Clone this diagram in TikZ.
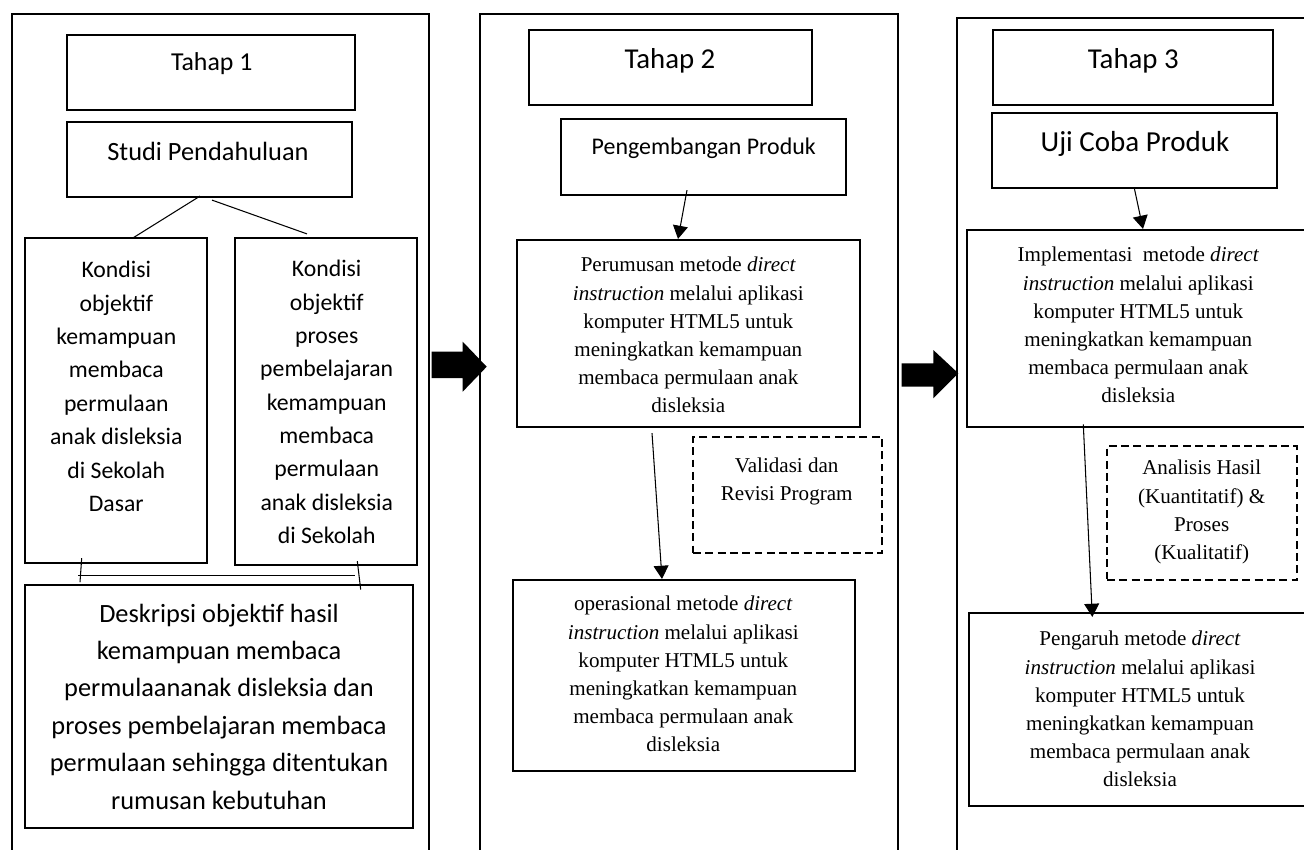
\documentclass[tikz,border=0pt]{standalone}
\usepackage{fontspec}
\setmainfont{Liberation Serif}
\newfontfamily\calibri{Carlito}
\newcommand{\cfont}[2]{\calibri\fontsize{#1}{#2}\selectfont}
\usetikzlibrary{positioning,fit,arrows.meta}

\begin{document}
\begin{tikzpicture}[x=0.02cm,y=-0.02cm,
  panel/.style={line width=1.15pt},
  box/.style={draw,line width=1.25pt,inner sep=0pt},
  dbox/.style={box,dash pattern=on 4.5pt off 2.5pt},
  link/.style={line width=0.6pt},
  arr/.style={link,-{Triangle[width=8.5pt,length=7.5pt]}},
  txt/.style={align=center,inner sep=0pt},
  body/.style={txt,font=\fontsize{12}{16}\selectfont}]

\clip (0,0) rectangle (1304,849);

% Tahap 1
\draw[panel] (11.7,860) -- (11.7,14) -- (429.3,14) -- (429.3,860);
\node[box, fit={(67,35) (355,110)}] (t1) {};
\node[box, fit={(67,122) (352,197)}] (studi) {};
\node[box, fit={(25,238) (207,563)}] (k1) {};
\node[box, fit={(235,238) (417,565)}] (k2) {};
\node[box, fit={(25,585) (413,828)}] (desk) {};

\node[txt, font=\cfont{14.7}{18}] (t1l) at (211.7,64) {Tahap 1};
\node[txt, font=\cfont{15}{18}] (studil) at (208,151) {Studi Pendahuluan};
\node[txt, font=\cfont{13.5}{19}] (k1l) at (116.3,386.5) {Kondisi\\ objektif\\ kemampuan\\ membaca\\ permulaan\\ anak disleksia\\ di Sekolah\\ Dasar};
\node[txt, font=\cfont{13.5}{19}] (k2l) at (326.7,402) {Kondisi\\ objektif\\ proses\\ pembelajaran\\ kemampuan\\ membaca\\ permulaan\\ anak disleksia\\ di Sekolah};
\node[txt, font=\cfont{15}{21.3}] (deskl) at (219,706.5) {Deskripsi objektif hasil\\ kemampuan membaca\\ permulaananak disleksia dan\\ proses pembelajaran membaca\\ permulaan sehingga ditentukan\\ rumusan kebutuhan};

\draw[link] ([shift={(-9.5,-2)}]studi.south) -- ([shift={(17,1)}]k1.north);
\draw[link] ([shift={(2.5,2)}]studi.south) -- ([shift={(-19,-3)}]k2.north);
\draw[link] ([shift={(-34.3,-6)}]k1.south) -- ([shift={(-139,-1.7)}]desk.north);
\draw[link] ([shift={(-37.7,11)}]k1.south) -- ([shift={(29,9)}]k2.south);
\draw[link] ([shift={(31.3,-5)}]k2.south) -- ([shift={(141.7,5.7)}]desk.north);

\fill (431.7,351.7) -- (462.7,351.7) -- (462.7,341.7) -- (486.7,366.7)
  -- (462.7,391.7) -- (462.7,378) -- (431.7,378) -- cycle;

% Tahap 2
\draw[panel] (480,860) -- (480,14) -- (898.3,14) -- (898.3,860);
\node[box, fit={(529,30) (812,105)}] (t2) {};
\node[box, fit={(561,119) (846,195)}] (peng) {};
\node[box, fit={(517,240) (860,427)}] (perum) {};
\node[dbox, fit={(693,437) (882,553)}] (valid) {};
\node[box, fit={(513,580) (855,771)}] (oper) {};

\node[txt, font=\cfont{16.4}{19}] (t2l) at (670,61) {Tahap 2};
\node[txt, font=\cfont{13.6}{16}] (pengl) at (703.7,148) {Pengembangan Produk};
\node[body] (peruml) at (688.3,335) {Perumusan metode \textit{direct}\\ \textit{instruction} melalui aplikasi\\ komputer HTML5 untuk\\ meningkatkan kemampuan\\ membaca permulaan anak\\ disleksia};
\node[body] (validl) at (786.7,481.5) {Validasi dan\\ Revisi Program};
\node[body] (operl) at (683.3,674) {operasional metode \textit{direct}\\ \textit{instruction} melalui aplikasi\\ komputer HTML5 untuk\\ meningkatkan kemampuan\\ membaca permulaan anak\\ disleksia};

\draw[arr] ([shift={(-16.5,-6)}]peng.south) -- ([shift={(-10.5,0)}]perum.north);
\draw[arr] ([shift={(-36.5,5)}]perum.south) -- ([shift={(-22,0)}]oper.north);

\fill (901.7,363.3) -- (933.3,363.3) -- (933.3,350) -- (958.3,373.3)
  -- (933.3,398.3) -- (933.3,386.7) -- (901.7,386.7) -- cycle;

% Tahap 3
\draw[panel] (956.7,860) -- (956.7,18.3) -- (1320,18.3);
\node[box, fit={(993,30) (1273,105)}] (t3) {};
\node[box, fit={(992,113) (1277,188)}] (uji) {};
\node[box, fit={(967,230) (1310,427)}] (impl) {};
\node[dbox, fit={(1107,446) (1297,580)}] (anal) {};
\node[box, fit={(969,613) (1311,806)}] (pengaruh) {};

\node[txt, font=\cfont{16.4}{19}] (t3l) at (1133.3,61) {Tahap 3};
\node[txt, font=\cfont{16.5}{19}] (ujil) at (1135,144) {Uji Coba Produk};
\node[body] (impll) at (1138.3,325) {Implementasi\ \ metode \textit{direct}\\ \textit{instruction} melalui aplikasi\\ komputer HTML5 untuk\\ meningkatkan kemampuan\\ membaca permulaan anak\\ disleksia};
\node[body] (anall) at (1201.7,512) {Analisis Hasil\\ (Kuantitatif) \&\\ Proses\\ (Kualitatif)};
\node[body] (pengaruhl) at (1140,709) {Pengaruh metode \textit{direct}\\ \textit{instruction} melalui aplikasi\\ komputer HTML5 untuk\\ meningkatkan kemampuan\\ membaca permulaan anak\\ disleksia};

\draw[arr] (uji.south) -- ([shift={(4.5,0)}]impl.north);
\draw[arr] ([shift={(-55.2,-3.7)}]impl.south) -- ([shift={(-47.7,5)}]pengaruh.north);
\end{tikzpicture}
\end{document}
